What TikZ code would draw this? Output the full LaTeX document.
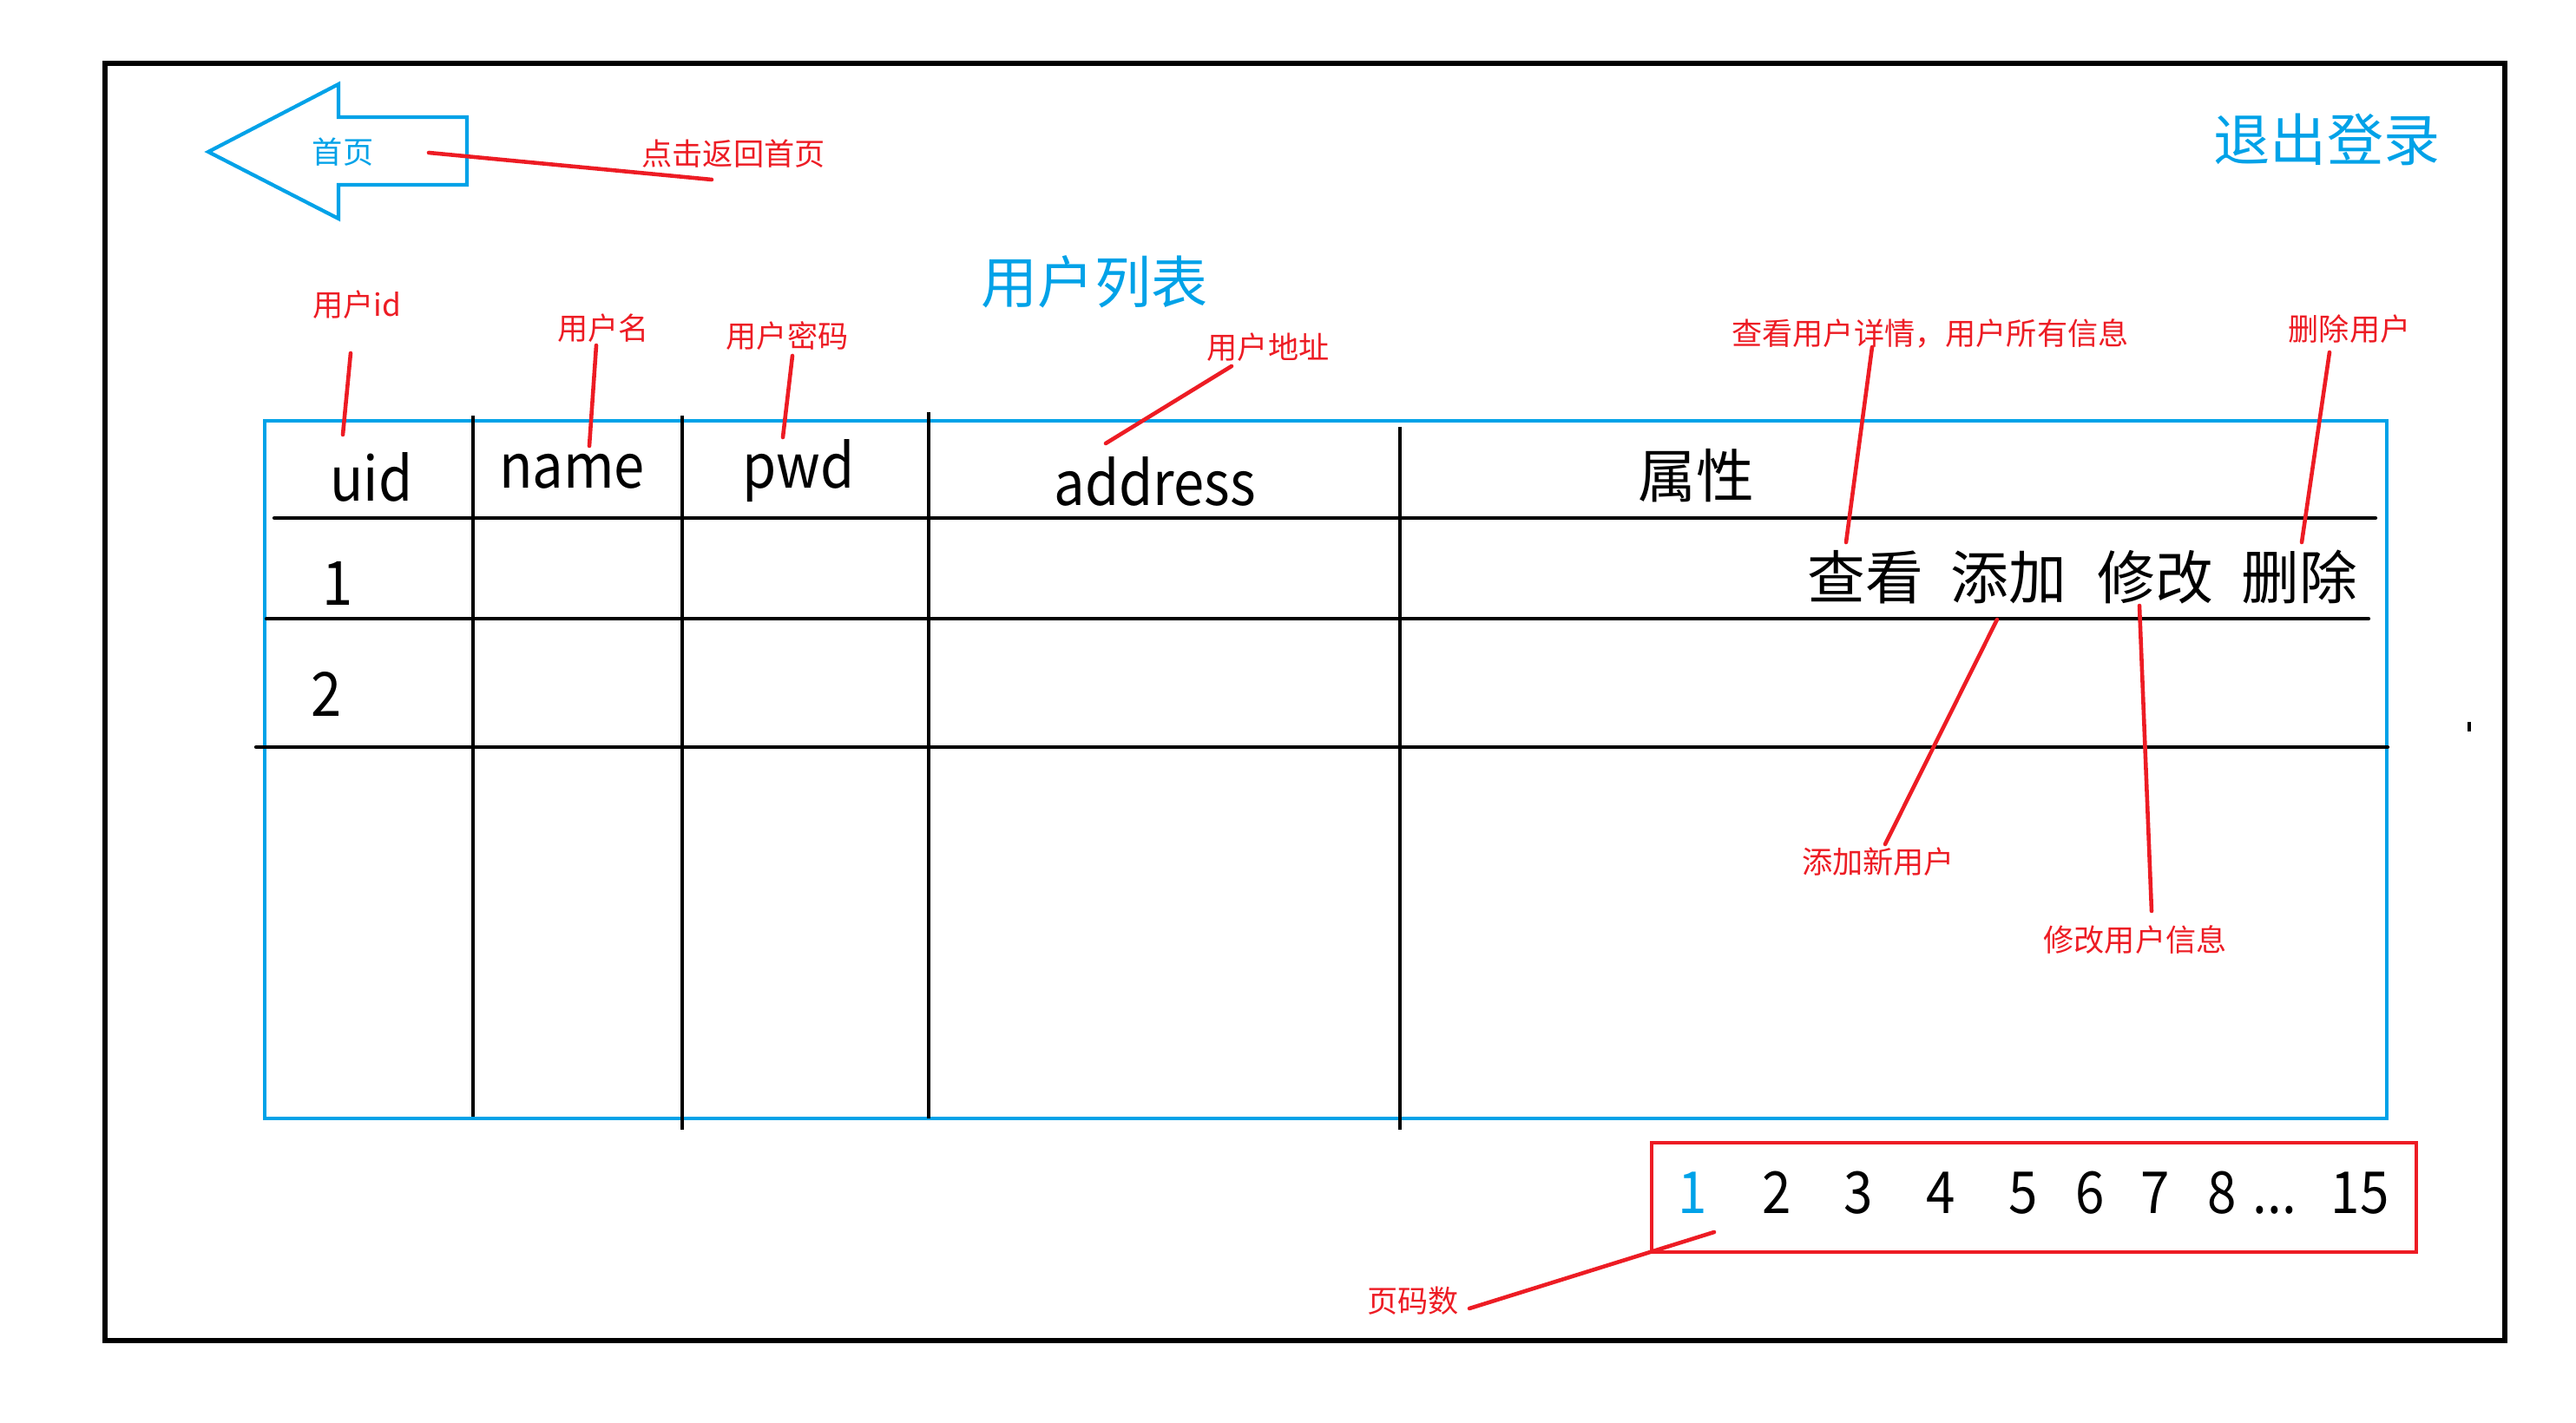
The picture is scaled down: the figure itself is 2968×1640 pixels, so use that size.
\documentclass[tikz,border=0pt]{standalone}
\usepackage{fontspec}
\setmainfont{Noto Sans CJK SC}
\newfontfamily\narrowlat[FakeStretch=0.9]{Noto Sans CJK SC}
\definecolor{pblue}{HTML}{00A2E8}
\definecolor{pred}{HTML}{ED1C24}
\begin{document}
\begin{tikzpicture}[x=0.01cm,y=-0.01cm,
  redlbl/.style={text=pred,inner sep=0pt,font=\fontsize{10pt}{12pt}\selectfont},
  bluelbl/.style={text=pblue,inner sep=0pt,font=\fontsize{10pt}{12pt}\selectfont},
  bigblue/.style={text=pblue,inner sep=0pt,font=\fontsize{18.5pt}{22pt}\selectfont},
  cjkcell/.style={inner sep=0pt,font=\fontsize{19pt}{22pt}\selectfont},
  hdr/.style={inner sep=0pt,anchor=base,font=\narrowlat\fontsize{20pt}{24pt}\selectfont},
  pnum/.style={inner sep=0pt,anchor=base,font=\narrowlat\fontsize{19pt}{22pt}\selectfont},
  ann/.style={draw=pred,line width=1.3pt,line cap=round},
  tline/.style={draw=black,line width=1.2pt},
  bline/.style={draw=pblue,line width=1.4pt}
]
\fill[white] (0,0) rectangle (2968,1640);
\useasboundingbox (0,0) rectangle (2968,1640);

% outer frame
\draw[line width=1.6pt] (121,73) rectangle (2886,1545);

% home arrow
\draw[bline,line width=1.2pt,line join=miter] (240,175) -- (390,97) -- (390,135) -- (538,135) -- (538,213) -- (390,213) -- (390,252) -- cycle;
\node[bluelbl] (home) at (395,175) {首页};

% titles
\node[bigblue] (title) at (1261,325) {用户列表};
\node[bigblue] (logout) at (2681,161) {退出登录};

% table
\draw[bline] (305,485) rectangle (2750,1289);
\draw[tline] (545,479) -- (545,1287);
\draw[tline] (786,479) -- (786,1302);
\draw[tline] (1070,475) -- (1070,1289);
\draw[tline] (1613,492) -- (1613,1302);
\draw[tline,line cap=round] (316,597) -- (2737,597);
\draw[tline,line cap=round] (307,713) -- (2729,713);
\draw[tline,line cap=round] (295,861) -- (2751,861);

% header texts
\node[hdr] (huid) at (428,578) {uid};
\node[hdr] (hname) at (659,563) {name};
\node[hdr] (hpwd) at (920,563) {pwd};
\node[hdr] (haddr) at (1331,583) {address};
\node[cjkcell] (hattr) at (1954,548) {属性};
\node[hdr] (r1) at (389,698) {1};
\node[hdr] (r2) at (376,826) {2};
\node[cjkcell] (view) at (2149,665) {查看};
\node[cjkcell] (add) at (2314,665) {添加};
\node[cjkcell] (edit) at (2483,665) {修改};
\node[cjkcell] (del) at (2649,665) {删除};

% pagination
\draw[draw=pred,line width=1.3pt] (1903,1317) rectangle (2784,1443);
\node[pnum,text=pblue] (p1) at (1950,1399) {1};
\node[pnum] (p2) at (2047,1399) {2};
\node[pnum] (p3) at (2141,1399) {3};
\node[pnum] (p4) at (2236,1399) {4};
\node[pnum] (p5) at (2331,1399) {5};
\node[pnum] (p6) at (2408,1399) {6};
\node[pnum] (p7) at (2483,1399) {7};
\node[pnum] (p8) at (2560,1399) {8};
\node[pnum] (pdots) at (2621,1399) {...};
\node[pnum] (p15) at (2719,1399) {15};

% small tick
\draw[tline,line width=1.2pt] (2845,832) -- (2845,843);

% red labels
\node[redlbl] (lhome) at (845,177) {点击返回首页};
\node[redlbl] (luid) at (411,351) {用户id};
\node[redlbl] (lname) at (695,378) {用户名};
\node[redlbl] (lpwd) at (907,387) {用户密码};
\node[redlbl] (laddr) at (1461,400) {用户地址};
\node[redlbl] (lview) at (2224,384) {查看用户详情，用户所有信息};
\node[redlbl] (ldel) at (2707,379) {删除用户};
\node[redlbl] (ladd) at (2164,993) {添加新用户};
\node[redlbl] (ledit) at (2460,1083) {修改用户信息};
\node[redlbl] (lpage) at (1628,1499) {页码数};

% connector end points
\coordinate (a1s) at (820,207);  \coordinate (a1e) at (494,176);
\coordinate (a2s) at (404,407);  \coordinate (a2e) at (395,501);
\coordinate (a3s) at (687,398);  \coordinate (a3e) at (679,514);
\coordinate (a4s) at (913,410);  \coordinate (a4e) at (902,504);
\coordinate (a5s) at (1419,422); \coordinate (a5e) at (1274,511);
\coordinate (a6s) at (2157,400); \coordinate (a6e) at (2127,625);
\coordinate (a7s) at (2684,406); \coordinate (a7e) at (2652,625);
\coordinate (a8s) at (2172,973); \coordinate (a8e) at (2301,714);
\coordinate (a9s) at (2479,1050);\coordinate (a9e) at (2465,698);
\coordinate (a10s) at (1693,1508);\coordinate (a10e) at (1975,1420);

\draw[ann] (a1s) -- (a1e);
\draw[ann] (a2s) -- (a2e);
\draw[ann] (a3s) -- (a3e);
\draw[ann] (a4s) -- (a4e);
\draw[ann] (a5s) -- (a5e);
\draw[ann] (a6s) -- (a6e);
\draw[ann] (a7s) -- (a7e);
\draw[ann] (a8s) -- (a8e);
\draw[ann] (a9s) -- (a9e);
\draw[ann] (a10s) -- (a10e);
\end{tikzpicture}
\end{document}
